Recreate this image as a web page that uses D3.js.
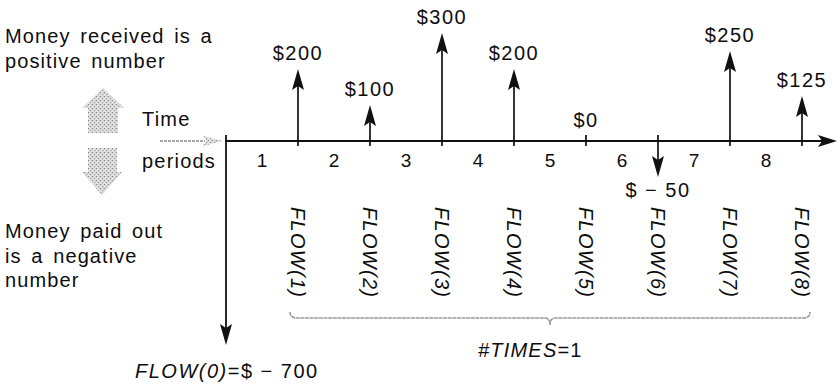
<!DOCTYPE html>
<html>
<head>
<meta charset="utf-8">
<script src="https://cdn.jsdelivr.net/npm/d3@7"></script>
<style>
  html, body { margin: 0; padding: 0; background: #fff; }
  svg { display: block; font-family: "Liberation Sans", Arial, Helvetica, sans-serif; }
  text { fill: #0d0d0d; }
</style>
</head>
<body>
<svg id="chart"></svg>
<script>
// cash flows by period end (index 0 = initial outlay)
const flowValues = [-700, 200, 100, 300, 200, 0, -50, 250, 125];
const flowNames = ["FLOW(0)", "FLOW(1)", "FLOW(2)", "FLOW(3)", "FLOW(4)", "FLOW(5)", "FLOW(6)", "FLOW(7)", "FLOW(8)"];
const periodLabels = ["1", "2", "3", "4", "5", "6", "7", "8"];
const topNote = ["Money received is a", "positive number"];
const bottomNote = ["Money paid out", "is a negative", "number"];
const timesLabel = "=1";

const width = 837, height = 386;

const svg = d3.select("#chart")
  .attr("width", width)
  .attr("height", height)
  .attr("viewBox", [0, 0, width, height]);

//stipple texture for the gray arrows
const defs = svg.append("defs");
const pat = defs.append("pattern")
  .attr("id", "stip")
  .attr("width", 4).attr("height", 4)
  .attr("patternUnits", "userSpaceOnUse");
pat.append("rect").attr("width", 4).attr("height", 4).attr("fill", "#e2e2e2");
pat.append("rect").attr("x", 0).attr("y", 0).attr("width", 1.2).attr("height", 1.2).attr("fill", "#8a8a8a");
pat.append("rect").attr("x", 2).attr("y", 2).attr("width", 1.2).attr("height", 1.2).attr("fill", "#9a9a9a");
pat.append("rect").attr("x", 3).attr("y", 0.5).attr("width", 0.8).attr("height", 0.8).attr("fill", "#b0b0b0");

//scales: period -> x, amount -> y (schematic, not proportional for outflows)
const x = d3.scaleLinear().domain([0, 8]).range([226, 802]);
const y = d3.scaleLinear().domain([-700, -50, 0, 300]).range([345, 177, 141, 33]);
const axisY = y(0);

const fmt = v => v < 0 ? "$ \u2212 " + (-v) : "$" + v;

//arrowhead shapes
const headUp = (cx, ty) => `M${cx},${ty} L${cx + 6},${ty + 21} L${cx},${ty + 17} L${cx - 6},${ty + 21} Z`;
const headDown = (cx, ty) => `M${cx},${ty} L${cx + 6},${ty - 21} L${cx},${ty - 17} L${cx - 6},${ty - 21} Z`;

//left notes
svg.append("g")
  .selectAll("text")
  .data(topNote)
  .join("text")
  .attr("x", 5)
  .attr("y", (d, i) => 43 + i * 25)
  .style("font-size", "20px")
  .style("letter-spacing", "1.1px")
  .style("word-spacing", "3px")
  .text(d => d);

svg.append("g")
  .selectAll("text")
  .data(bottomNote)
  .join("text")
  .attr("x", 5)
  .attr("y", (d, i) => 238 + i * 24.5)
  .style("font-size", "20px")
  .style("letter-spacing", "1.1px")
  .style("word-spacing", "3px")
  .text(d => d);

//gray fat arrows + time arrow
const gray = svg.append("g").attr("fill", "url(#stip)");
gray.append("path")
  .attr("d", "M103,88 L124,108 L118,108 L118,133 L88,133 L88,108 L82,108 Z");
gray.append("path")
  .attr("d", "M88,148 L117,148 L117,172 L122,172 L102,195 L82,172 L88,172 Z");
svg.append("line")
  .attr("x1", 160).attr("x2", 205)
  .attr("y1", axisY).attr("y2", axisY)
  .attr("stroke", "#a8a8a8")
  .attr("stroke-width", 2)
  .attr("stroke-dasharray", "3,1");
gray.append("path")
  .attr("d", `M223,${axisY} L203,${axisY - 5} L206,${axisY} L203,${axisY + 5} Z`);

svg.append("text").attr("x", 142).attr("y", 126)
  .style("font-size", "20px").style("letter-spacing", "1.2px").text("Time");
svg.append("text").attr("x", 142).attr("y", 168)
  .style("font-size", "20px").style("letter-spacing", "1.2px").text("periods");

//time axis
svg.append("line")
  .attr("x1", x(0) - 1).attr("x2", 826)
  .attr("y1", axisY).attr("y2", axisY)
  .attr("stroke", "#111").attr("stroke-width", 2);
svg.append("path")
  .attr("d", `M837,${axisY} L818,${axisY - 6} L822,${axisY} L818,${axisY + 6} Z`)
  .attr("fill", "#111");

//period numbers
svg.append("g")
  .selectAll("text")
  .data(periodLabels)
  .join("text")
  .attr("x", (d, i) => x(i + 0.5))
  .attr("y", 167)
  .attr("text-anchor", "middle")
  .style("font-size", "19px")
  .text(d => d);

//flow arrows
const flows = flowValues.map((v, i) => ({ i, v, name: flowNames[i] }));

const arrows = svg.append("g")
  .selectAll("g")
  .data(flows)
  .join("g");

arrows.append("line")
  .attr("x1", d => x(d.i)).attr("x2", d => x(d.i))
  .attr("y1", d => d.v > 0 ? y(d.v) + 10 : axisY - 6)
  .attr("y2", d => d.v > 0 ? axisY + 5 : d.v < 0 ? y(d.v) - 10 : axisY + 5)
  .attr("stroke", "#111")
  .attr("stroke-width", d => d.i === 0 ? 1.8 : 1.7);

arrows.filter(d => d.v !== 0)
  .append("path")
  .attr("d", d => d.v > 0 ? headUp(x(d.i), y(d.v)) : headDown(x(d.i), y(d.v)))
  .attr("fill", "#111");

//amount labels (period 0 is labelled below)
arrows.filter(d => d.i > 0)
  .append("text")
  .attr("x", d => x(d.i))
  .attr("y", d => d.v > 0 ? y(d.v) - 9 : d.v < 0 ? y(d.v) + 20 : axisY - 14)
  .attr("text-anchor", "middle")
  .style("font-size", "20px")
  .style("letter-spacing", "1.5px")
  .text(d => fmt(d.v));

//rotated FLOW(i) names
arrows.filter(d => d.i > 0)
  .append("text")
  .attr("transform", d => `translate(${x(d.i)},207) rotate(90)`)
  .attr("dy", "0.36em")
  .style("font-size", "20px")
  .style("font-style", "italic")
  .style("letter-spacing", "1.3px")
  .text(d => d.name);

//brace under FLOW(1)..FLOW(8)
const bx0 = x(1) - 8, bx1 = x(8) + 8, bm = (x(1) + x(8)) / 2, by = 318;
svg.append("path")
  .attr("d", `M${bx0},${by - 6} Q${bx0},${by} ${bx0 + 7},${by} L${bm - 5},${by} Q${bm},${by} ${bm},${by + 7} Q${bm},${by} ${bm + 5},${by} L${bx1 - 7},${by} Q${bx1},${by} ${bx1},${by - 6}`)
  .attr("fill", "none")
  .attr("stroke", "#9a9a9a")
  .attr("stroke-width", 1.6)
  .attr("stroke-dasharray", "4,0.6");

const tt = svg.append("text")
  .attr("x", 478).attr("y", 357)
  .style("font-size", "20px")
  .style("letter-spacing", "1.2px");
tt.append("tspan").style("font-style", "italic").text("#TIMES");
tt.append("tspan").text(timesLabel);

//initial outlay label
const f0 = svg.append("text")
  .attr("x", 135).attr("y", 378)
  .style("font-size", "20px")
  .style("letter-spacing", "1.5px");
f0.append("tspan").style("font-style", "italic").text(flows[0].name);
f0.append("tspan").text("=" + fmt(flows[0].v));
</script>
</body>
</html>
